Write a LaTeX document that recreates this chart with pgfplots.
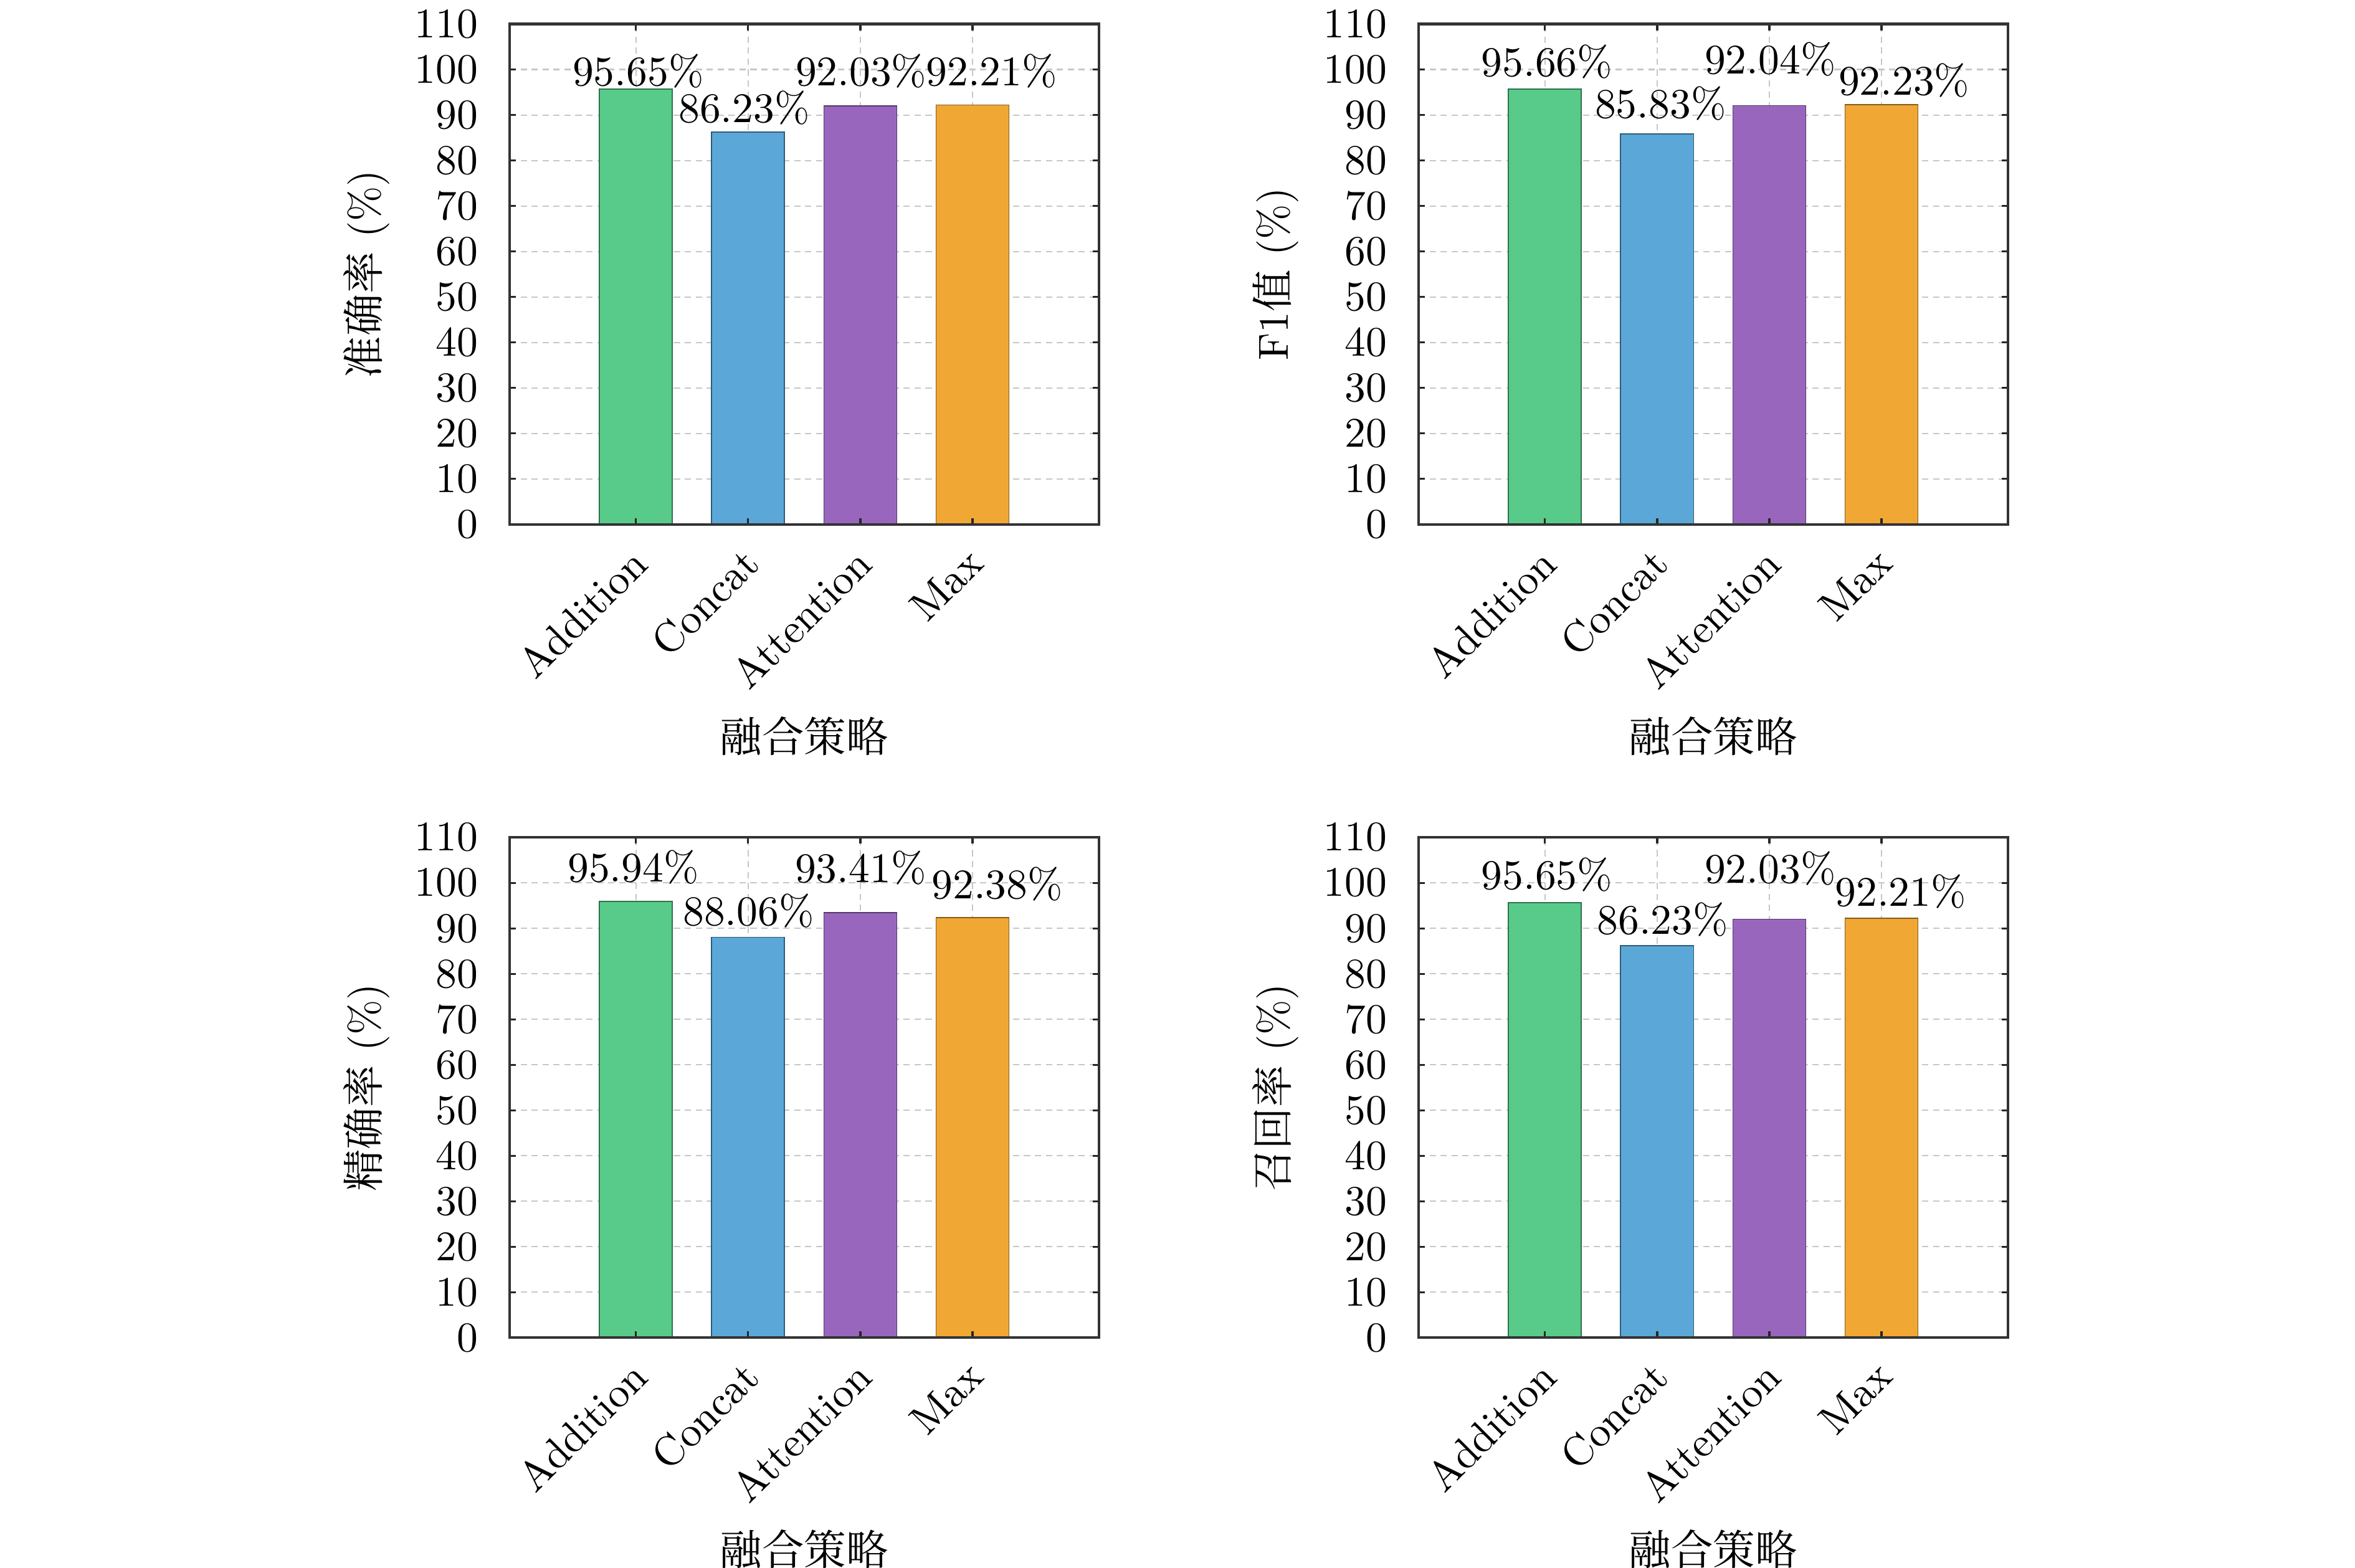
\documentclass[border=0pt]{standalone}
\usepackage{pgfplots}
\pgfplotsset{compat=1.18}
\usepackage{fontspec}
\newfontfamily\cjk{Noto Serif CJK SC}
\definecolor{cgreen}{HTML}{58CB8A}
\definecolor{cblue}{HTML}{5AA7D8}
\definecolor{cpurple}{HTML}{9966BE}
\definecolor{corange}{HTML}{F0A733}
\pgfplotsset{
  layers/mylayers/.define layer set={
    axis background,axis grid,pre main,main,axis ticks,axis lines,axis tick labels,axis descriptions,axis foreground
  }{
    grid style={/pgfplots/on layer=axis grid},
    tick style={/pgfplots/on layer=axis ticks},
    axis line style={/pgfplots/on layer=axis lines},
    label style={/pgfplots/on layer=axis descriptions},
    legend style={/pgfplots/on layer=axis descriptions},
    title style={/pgfplots/on layer=axis descriptions},
    colorbar style={/pgfplots/on layer=axis descriptions},
    ticklabel style={/pgfplots/on layer=axis tick labels},
    axis background@ style={/pgfplots/on layer=axis background},
    3d box foreground style={/pgfplots/on layer=axis foreground},
  },
  panel/.style={
    set layers=mylayers,
    scale only axis, width=140pt, height=118.9pt, anchor=south west,
    xmin=-1.125, xmax=4.125, ymin=0, ymax=110,
    xtick={0,1,2,3}, xticklabels={Addition,Concat,Attention,Max},
    ytick={0,10,...,110},
    tick align=inside, major tick length=1.5pt,
    xtick pos=both, ytick pos=both,
    grid=major,
    major grid style={black!22, line width=0.3pt, dash pattern=on 1.5pt off 1.1pt},
    axis line style={black!80, line width=0.6pt},
    tick style={black!85, line width=0.5pt},
    xticklabel style={xshift=-1.8pt, rotate=45, anchor=north east},
    yticklabel shift=4pt,
    every axis x label/.style={at={([yshift=-50.5pt]axis description cs:0.5,0)}, anchor=center},
    every axis y label/.style={at={([xshift=-34pt]axis description cs:0,0.5)}, rotate=90, anchor=center},
    xlabel={{\cjk 融合策略}},
  },
  bar/.style={ybar, bar width=0.65, bar shift=0pt, line width=0.25pt, fill=#1, draw=#1!55!black},
}
\begin{document}
\begin{tikzpicture}
% top left
\begin{axis}[panel, at={(121.1pt,248pt)}, ylabel={{\cjk 准确率} (\%)}]
\addplot[bar=cgreen] coordinates {(0,95.65)};
\addplot[bar=cblue] coordinates {(1,86.23)};
\addplot[bar=cpurple] coordinates {(2,92.03)};
\addplot[bar=corange] coordinates {(3,92.21)};
\node[anchor=base] at (axis cs:0.02,96.4) {95.65\%};
\node[anchor=base] at (axis cs:0.965,88.4) {86.23\%};
\node[anchor=base] at (axis cs:2.007,96.4) {92.03\%};
\node[anchor=base] at (axis cs:3.17,96.4) {92.21\%};
\end{axis}
% top right
\begin{axis}[panel, at={(337.1pt,248pt)}, ylabel={F1{\cjk 值} (\%)}]
\addplot[bar=cgreen] coordinates {(0,95.66)};
\addplot[bar=cblue] coordinates {(1,85.83)};
\addplot[bar=cpurple] coordinates {(2,92.04)};
\addplot[bar=corange] coordinates {(3,92.23)};
\node[anchor=base] at (axis cs:0.017,98.5) {95.66\%};
\node[anchor=base] at (axis cs:1.03,89.3) {85.83\%};
\node[anchor=base] at (axis cs:2.007,99.1) {92.04\%};
\node[anchor=base] at (axis cs:3.2,94.4) {92.23\%};
\end{axis}
% bottom left
\begin{axis}[panel, at={(121.1pt,54.7pt)}, ylabel={{\cjk 精确率} (\%)}]
\addplot[bar=cgreen] coordinates {(0,95.94)};
\addplot[bar=cblue] coordinates {(1,88.06)};
\addplot[bar=cpurple] coordinates {(2,93.41)};
\addplot[bar=corange] coordinates {(3,92.38)};
\node[anchor=base] at (axis cs:-0.024,100.3) {95.94\%};
\node[anchor=base] at (axis cs:1.004,90.7) {88.06\%};
\node[anchor=base] at (axis cs:2.002,100.1) {93.41\%};
\node[anchor=base] at (axis cs:3.22,96.6) {92.38\%};
\end{axis}
% bottom right
\begin{axis}[panel, at={(337.1pt,54.7pt)}, ylabel={{\cjk 召回率} (\%)}]
\addplot[bar=cgreen] coordinates {(0,95.65)};
\addplot[bar=cblue] coordinates {(1,86.23)};
\addplot[bar=cpurple] coordinates {(2,92.03)};
\addplot[bar=corange] coordinates {(3,92.21)};
\node[anchor=base] at (axis cs:0.017,98.6) {95.65\%};
\node[anchor=base] at (axis cs:1.049,88.8) {86.23\%};
\node[anchor=base] at (axis cs:2.007,100.0) {92.03\%};
\node[anchor=base] at (axis cs:3.17,94.85) {92.21\%};
\end{axis}
\pgfresetboundingbox
\path[use as bounding box] (0,0) rectangle (559.6pt,372.6pt);
\end{tikzpicture}
\end{document}
